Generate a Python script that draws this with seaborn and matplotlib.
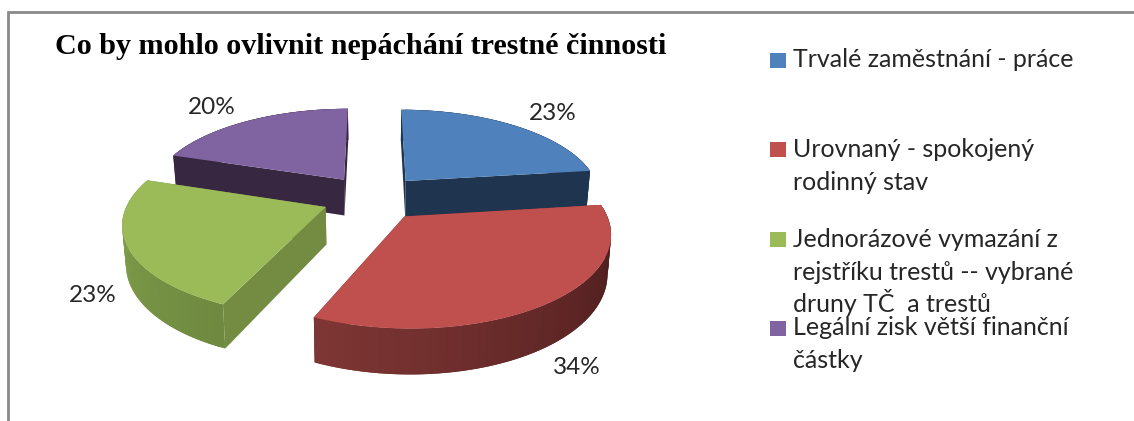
import numpy as np
import matplotlib
matplotlib.use("Agg")
import matplotlib.pyplot as plt
from matplotlib.transforms import Transform
import seaborn as sns

# ---- data ----
title = "Co by mohlo ovlivnit nepáchání trestné činnosti"
categories = ["Trvalé zaměstnání - práce",
              "Urovnaný - spokojený\nrodinný stav",
              "Jednorázové vymazání z\nrejstříku trestů -- vybrané\ndruny TČ  a trestů",
              "Legální zisk větší finanční\nčástky"]
values = [23, 33.6, 23.4, 20]

# ---- style ----
top_colors = ["#4f81bd", "#c0504d", "#9bbb59", "#8064a2"]
cut_colors = ["#1f354f", "#5a2523", "#738c42", "#372741"]
wall_start = ["#1f354f", "#46191a", "#6f8a40", "#372741"]
wall_end = ["#1f354f", "#7e3634", "#84a54d", "#372741"]
text_color = "#262626"
border_color = "#8a8a8a"

# ---- layout (pixels of the 1134x421 figure) ----
CX, CY, RX, RY, PERSP, DEPTH, SHRINK = 373.0, 197.5, 196.0, 87.5, 0.16, 37.0, 0.985
EXPLODE = 0.26
pct_pos = [(553, 114), (577, 367), (93, 296), (212, 107)]
marker_x, marker_size, text_x = 770, 16, 793
marker_top = [52.5, 142, 232, 321]
first_baseline = [67, 157, 247, 335]
line_pitch = 32.5

sns.set_theme(style="white", palette=sns.color_palette(top_colors))
plt.rcParams["font.family"] = ["Lato", "DejaVu Sans"]

def project(x, y, z=0.0):
    """Model pie coordinates (y up, unit radius) to figure pixels; z 0..1 is the extrusion."""
    x, y = np.asarray(x, float), np.asarray(y, float)
    s = 1.0 / (1.0 + PERSP * y)
    px = RX * x * s * (1 - (1 - SHRINK) * z)
    py = -RY * y * s + DEPTH * s * z
    return CX + px, CY + py

class Perspective(Transform):
    input_dims = output_dims = 2
    is_separable = False
    has_inverse = False
    def transform_non_affine(self, values):
        px, py = project(values[:, 0], values[:, 1])
        return np.column_stack([px, py])

def mix(c0, c1, t):
    a, b = np.array(matplotlib.colors.to_rgb(c0)), np.array(matplotlib.colors.to_rgb(c1))
    return tuple(a + (b - a) * t)

fig = plt.figure(figsize=(11.34, 4.21), dpi=100, facecolor="white")
ax = fig.add_axes([0, 0, 1, 1])

wedges, _, autotexts = ax.pie(values, colors=top_colors, startangle=90, counterclock=False,
                              explode=[EXPLODE] * len(values), autopct="%.0f%%",
                              textprops=dict(fontsize=17.5, color=text_color),
                              wedgeprops=dict(linewidth=0))
ax.set_aspect("auto")
ax.set_xlim(0, 1134)
ax.set_ylim(421, 0)
ax.set_axis_off()

persp = Perspective()
order = {0: 2, 3: 2, 2: 4, 1: 6}   # painter's order, back slices first
fracs = np.cumsum([0] + values) / np.sum(values)
for i, w in enumerate(wedges):
    w.set_transform(persp + ax.transData)
    w.set_zorder(order[i] + 1)
    th1, th2 = fracs[i] * 2 * np.pi, fracs[i + 1] * 2 * np.pi   # clockwise from 12 o'clock
    mid = (th1 + th2) / 2
    ax0, ay0 = EXPLODE * np.sin(mid), EXPLODE * np.cos(mid)
    # straight cut faces
    for th in (th1, th2):
        mx = np.array([ax0, ax0 + np.sin(th)])
        my = np.array([ay0, ay0 + np.cos(th)])
        tx, ty = project(mx, my, 0)
        bx, by = project(mx, my, 1)
        ax.fill(np.r_[tx, bx[::-1]], np.r_[ty, by[::-1]], facecolor=cut_colors[i], lw=0,
                zorder=order[i] - 0.5)
    # curved outer wall as shaded strips; each strip overlaps the next to avoid seams
    ths = np.linspace(th1, th2, 61)
    for k in range(60):
        seg = ths[k:k + 3]
        mx, my = ax0 + np.sin(seg), ay0 + np.cos(seg)
        tx, ty = project(mx, my, 0)
        bx, by = project(mx, my, 1)
        ax.fill(np.r_[tx, bx[::-1]], np.r_[ty, by[::-1]], facecolor=mix(wall_start[i], wall_end[i], k / 59),
                lw=0, zorder=order[i])

for at, pos in zip(autotexts, pct_pos):
    at.set_position(pos)
    at.set_ha("center")
    at.set_va("center")
    at.set_zorder(10)

ax.text(55, 47, title, family="Liberation Serif", fontweight="bold", fontsize=21.7,
        color="black", ha="left", va="center")

for i, label in enumerate(categories):
    ax.add_patch(plt.Rectangle((marker_x, marker_top[i]), marker_size, marker_size - 1,
                               facecolor=top_colors[i], edgecolor="none"))
    for j, line in enumerate(label.split("\n")):
        ax.text(text_x, first_baseline[i] + j * line_pitch, line, fontsize=18,
                color=text_color, ha="left", va="baseline")

ax.plot([7.5, 7.5, 1134], [421, 12, 12], color=border_color, lw=2, solid_joinstyle="miter")

fig.savefig("out.png", dpi=100)
